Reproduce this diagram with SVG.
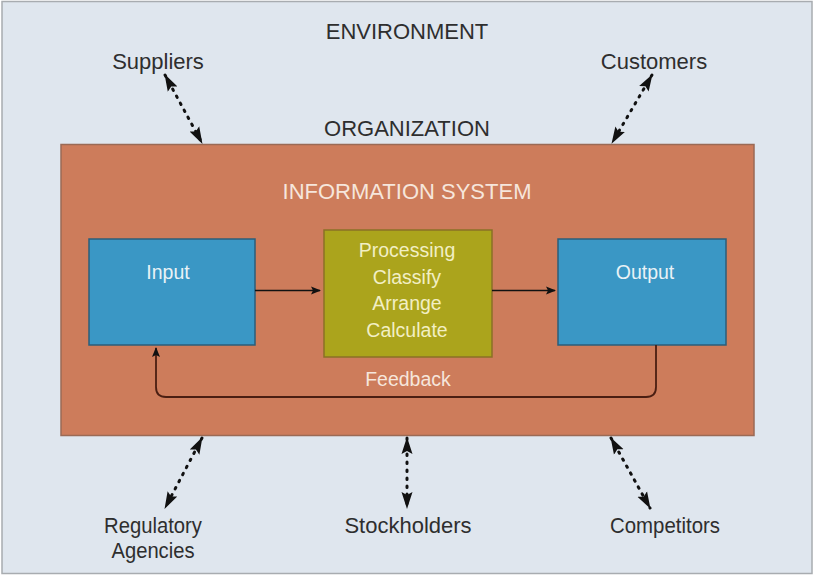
<svg xmlns="http://www.w3.org/2000/svg" width="813" height="585" viewBox="0 0 813 585">
<defs>
<style>
.t{font-family:"Liberation Sans",Arial,sans-serif;text-anchor:middle}
.dark{fill:#2e2e2e;font-size:22px}
.w{fill:#f6e6dc;font-size:19.5px}
.big{font-size:22px}
.y{fill:#f2efc4;font-size:19.5px}
.dot{stroke:#111;stroke-width:3;stroke-dasharray:1.5 6.5;stroke-linecap:round;fill:none}
.solid{stroke:#111;stroke-width:1.6;fill:none}
</style>
<marker id="ah" viewBox="0 0 10 10" refX="9" refY="5" markerWidth="10" markerHeight="10" markerUnits="userSpaceOnUse" orient="auto-start-reverse">
<path d="M0,1 L10,5 L0,9 L2,5 Z" fill="#111"/>
</marker>
<marker id="ab" viewBox="0 0 17 12" refX="16" refY="6" markerWidth="17" markerHeight="12" markerUnits="userSpaceOnUse" orient="auto-start-reverse">
<path d="M0,0.5 L17,6 L0,11.5 L3,6 Z" fill="#111"/>
</marker>
</defs>
<rect x="0" y="0" width="813" height="585" fill="#ffffff"/>
<rect x="2" y="1.5" width="810" height="572" fill="#dfe6ee" stroke="#a8acb0" stroke-width="1.5"/>
<g id="environment"><text class="t dark" x="407" y="39">ENVIRONMENT</text></g>
<g id="suppliers"><text class="t dark" x="158" y="69">Suppliers</text></g>
<g id="customers"><text class="t dark" x="654" y="69">Customers</text></g>
<g id="organization">
<text class="t dark" x="407" y="136">ORGANIZATION</text>
<rect x="61" y="144.5" width="693" height="291" fill="#cd7c5b" stroke="#9a6a55" stroke-width="1.5"/>
<text class="t w big" x="407" y="199">INFORMATION SYSTEM</text>
</g>
<g id="input"><rect x="89" y="239" width="166" height="106" fill="#3a97c5" stroke="#2b5d7a" stroke-width="1.5"/><text class="t w" x="168" y="279" style="fill:#e9f2f6">Input</text></g>
<g id="processing"><rect x="324" y="230" width="168" height="127" fill="#aba41c" stroke="#8a7026" stroke-width="1.5"/>
<text class="t y" x="407" y="257">Processing</text>
<text class="t y" x="407" y="284">Classify</text>
<text class="t y" x="407" y="310">Arrange</text>
<text class="t y" x="407" y="337">Calculate</text></g>
<g id="output"><rect x="558" y="239" width="168" height="106" fill="#3a97c5" stroke="#2b5d7a" stroke-width="1.5"/><text class="t w" x="645" y="279" style="fill:#e9f2f6">Output</text></g>
<g id="feedback-label"><text class="t w" x="408" y="386">Feedback</text></g>
<g id="regulatory"><text class="t dark" x="153" y="533" textLength="98" lengthAdjust="spacingAndGlyphs">Regulatory</text><text class="t dark" x="153" y="558" textLength="83" lengthAdjust="spacingAndGlyphs">Agencies</text></g>
<g id="stockholders"><text class="t dark" x="408" y="533">Stockholders</text></g>
<g id="competitors"><text class="t dark" x="665" y="533" textLength="110" lengthAdjust="spacingAndGlyphs">Competitors</text></g>
<g id="connectors">
<line class="solid" x1="255" y1="290.5" x2="320" y2="290.5" marker-end="url(#ah)"/>
<line class="solid" x1="492" y1="290.5" x2="555" y2="290.5" marker-end="url(#ah)"/>
<path d="M656,345 V387 Q656,397 646,397 H166 Q156,397 156,387 V348" fill="none" stroke="#4a1e12" stroke-width="1.8" marker-end="url(#ah)"/>
<line class="dot" x1="165" y1="75" x2="202" y2="143" marker-start="url(#ab)" marker-end="url(#ab)"/>
<line class="dot" x1="652" y1="75" x2="612" y2="143" marker-start="url(#ab)" marker-end="url(#ab)"/>
<line class="dot" x1="202" y1="438" x2="165" y2="508" marker-start="url(#ab)" marker-end="url(#ab)"/>
<line class="dot" x1="407" y1="438" x2="407" y2="508" marker-start="url(#ab)" marker-end="url(#ab)"/>
<line class="dot" x1="611" y1="438" x2="650" y2="508" marker-start="url(#ab)" marker-end="url(#ab)"/>
</g>
</svg>
